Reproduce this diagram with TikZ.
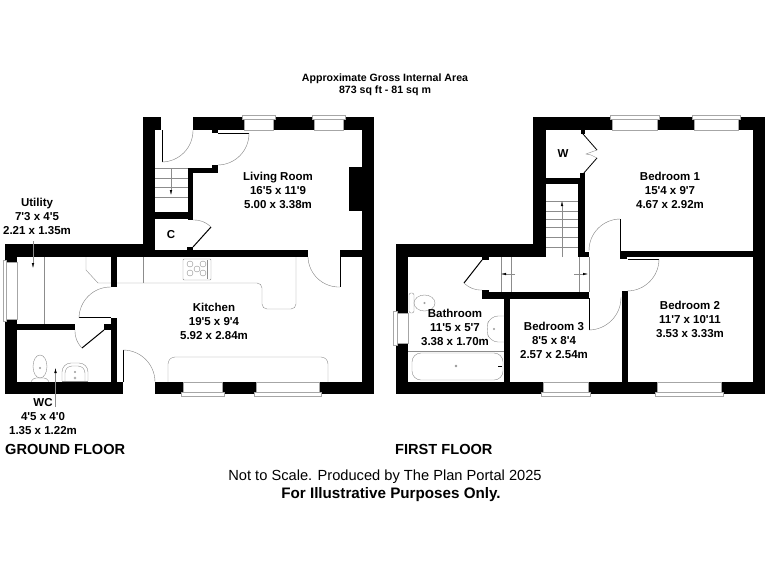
\documentclass[tikz,border=0pt]{standalone}
\usepackage{fontspec}
\usetikzlibrary{arrows.meta}
\newfontfamily\planfont{Liberation Sans}
\tikzset{%
  wall/.style={fill=black,draw=none},
  fitting/.style={draw=black!45,line width=0.4pt},
  leaf/.style={draw=black,line width=1pt},
  swing/.style={draw=black!50,line width=0.4pt},
  glass/.style={draw=black!35,line width=0.4pt,fill=white},
  room/.style={align=center,inner sep=0pt,font=\planfont\bfseries\fontsize{11.5}{14}\selectfont},
  note/.style={align=center,inner sep=0pt,font=\planfont\bfseries\fontsize{10.6}{12}\selectfont},
  heading/.style={inner sep=0pt,anchor=west,font=\planfont\bfseries\fontsize{14.6}{16}\selectfont},
}

\begin{document}
\begin{tikzpicture}[x=1pt,y=-1pt,>={Latex[black,length=5pt,width=2.5pt]}]
      \useasboundingbox (0,0) rectangle (768,576);

      % ground floor walls
      \foreach \xa/\ya/\xb/\yb in {143/117/161/130,143/117/155/257,193/117/244/130,273/117/314/130,
        343/117/374/130,362/117/374/394,349/167/362/211,188/168/193/220,188/168/218/173,212/165/218/173,
        212/130/218/133,155/212/193/219,187/247/193/250,5/244/143/257,143/250/308/257,340/250/362/257,
        5/244/17/262,5/319/17/394,5/382/123/394,17/324/75/330,104/324/111/330,111/257/117/287,
        111/318/117/382,155/382/183/394,222/382/256/394,319/382/374/394}
        \fill[wall] (\xa,\ya) rectangle (\xb,\yb);

      % first floor walls
      \foreach \xa/\ya/\xb/\yb in {533/117/612/130,657/117/694/130,738/117/765/130,753/117/765/394,
        533/117/546/257,546/178/585/184,578/178/585/257,578/252/589/257,581/130/585/134,396/244/546/257,
        396/244/408/313,396/343/408/394,396/382/543/394,588/382/657/394,721/382/765/394,
        620/251/753/257,620/251/627/259,622/291/628/382,482/292/589/299,482/290/489/299,482/257/489/260,
        504/299/510/382,580/173/585/178}
        \fill[wall] (\xa,\ya) rectangle (\xb,\yb);

      % windows
      \foreach \xa/\ya/\xb/\yb in {242/115/275/119,312/115/345/119,610/115/659/119,692/115/740/119,
        181/392/224/396,254/392/321/396,541/392/590/396,655/392/723/396,3/260/6/321,393/311/397/345}
        \draw[glass] (\xa,\ya) rectangle (\xb,\yb);
      \foreach \xa/\ya/\xb/\yb in {244/119/273/130,314/119/343/130,612/119/657/130,694/119/738/130,
        183/382/222/392,256/382/319/392,543/382/588/392,657/382/721/392,6/262/17/319,397/313/408/343}
        \draw[glass] (\xa,\ya) rectangle (\xb,\yb);

      % doors
      \foreach \xa/\ya/\xb/\yb in {162/130/162/162,218/133/249/133,193/247/211/227,340/257/340/287,
        104/330/82/348,620/251/620/219,628/259/659/259,589/298/589/330,482/260/464/283}
        \draw[leaf] (\xa,\ya) -- (\xb,\yb);
      \draw[leaf,line width=0.6pt] (111,317) -- (79,317);
      \draw[leaf,line width=0.6pt] (123,382) -- (123,350);
      \foreach \xa/\ya/\xb/\yb in {162/162/193/130,218/165/249/133,308/257/340/287,111/287/79/318,
        155/382/123/350,620/219/589/251,627/291/659/259,589/330/621/297}
        \draw[swing] (\xa,\ya) to[bend right=45] (\xb,\yb);
      \draw[swing] (211,227) to[bend right=22] (193,220);
      \draw[swing] (75,330) to[bend right=22] (82,348);
      \draw[swing] (464,283) to[bend right=22] (482,290);

      % wardrobe doors
      \draw[leaf,line width=0.8pt] (583,134) -- (597,150);
      \draw[leaf,line width=0.8pt] (583,174) -- (597,158);
      \draw[fitting] (597,150) -- (586,154) -- (591,155) -- (597,158);

      % stairs
      \foreach \y in {168,178,187,197}
        \draw[fitting] (155,\y) -- (188,\y);
      \draw[fitting,->] (171,168) -- (171,195);
      \foreach \y in {201,211,219,227,237,247}
        \draw[fitting] (546,\y) -- (578,\y);
      \draw[fitting,->] (562,257) -- (562,201);
      \foreach \x in {501,511,579,589}
        \draw[fitting] (\x,257) -- (\x,292);
      \draw[fitting,->] (515,274) -- (501,274);
      \draw[fitting,->] (574,274) -- (588,274);

      % kitchen and utility units
      \draw[fitting] (86,257) -- (86,270) -- (98,283) -- (111,283);
      \draw[fitting] (44,257) -- (44,324);
      \draw[fitting] (143,257) -- (143,283);
      \draw[fitting,rounded corners=5pt] (117,283) -- (262,283) -- (262,309) -- (296,309) -- (296,257);
      \draw[fitting,rounded corners=7pt] (168,382) -- (168,357) -- (328,357) -- (328,382);
      \draw[fitting,rounded corners=1pt] (183,259) rectangle (211,280);
      \draw[fitting] (207,260) -- (207,279);
      \foreach \x/\y/\r in {190/264/3,190/273/3,197/269/3,203/264/3,203/273/3}
        \draw[fitting] (\x,\y) circle (\r);

      % bathroom and wc fittings
      \draw[fitting] (408,351) -- (504,351);
      \draw[fitting,rounded corners=9pt] (412,353) rectangle (503,380);
      \draw[fitting] (456,366) circle (1);
      \draw[leaf,line width=0.7pt] (498,366) -- (502,366);
      \draw[fitting,rounded corners=8pt] (504,316) -- (490,316) -- (486,329) -- (490,342) -- (504,342);
      \draw[fitting] (494,329) circle (0.8);
      \draw[fitting,rounded corners=2pt] (409,293) rectangle (414,313);
      \draw[fitting] (424.5,303) ellipse (10.5 and 8);
      \draw[fitting] (424.5,303) circle (0.8);
      \draw[fitting,rounded corners=3pt] (31,382) -- (33,378) -- (47,378) -- (49,382);
      \draw[fitting] (40,366.5) ellipse (7 and 11.5);
      \draw[fitting] (40,368) circle (0.8);
      \draw[fitting,rounded corners=9pt] (62,381) -- (62,363) -- (88,363) -- (88,381);
      \draw[fitting,rounded corners=7pt] (65,381) -- (65,366) -- (85,366) -- (85,381);
      \draw[fitting] (75,372) circle (0.8);
      \draw[fitting] (75,378) circle (1.2);
      \draw[fitting] (62,381) -- (88,381);

      % dimension leaders
      \draw[fitting,->] (33,241) -- (33,268);
      \draw[fitting,->] (55.5,407) -- (55.5,368);

      % labels
      \node[note] (area) at (385,85) {Approximate Gross Internal Area\\873 sq ft - 81 sq m};
      \node[room] (utility) at (37,216) {Utility\\7'3 x 4'5\\2.21 x 1.35m};
      \node[room] (wc) at (43,417) {WC\\4'5 x 4'0\\1.35 x 1.22m};
      \node[room] (cupboard) at (171,235) {C};
      \node[room] (living) at (278,190) {Living Room\\16'5 x 11'9\\5.00 x 3.38m};
      \node[room] (kitchen) at (214,321) {Kitchen\\19'5 x 9'4\\5.92 x 2.84m};
      \node[room] (wardrobe) at (563,154) {W};
      \node[room] (bed1) at (670,190) {Bedroom 1\\15'4 x 9'7\\4.67 x 2.92m};
      \node[room] (bed2) at (690,319) {Bedroom 2\\11'7 x 10'11\\3.53 x 3.33m};
      \node[room] (bed3) at (554,340) {Bedroom 3\\8'5 x 8'4\\2.57 x 2.54m};
      \node[room] (bath) at (455,327) {Bathroom\\11'5 x 5'7\\3.38 x 1.70m};
      \node[heading] (ground) at (5,449) {GROUND FLOOR};
      \node[heading] (first) at (395,449) {FIRST FLOOR};
      \node[inner sep=0pt,font=\planfont\fontsize{14.65}{16}\selectfont] (scale) at (385,477) {Not to Scale. Produced by The Plan Portal 2025};
      \node[inner sep=0pt,font=\planfont\bfseries\fontsize{15.2}{16}\selectfont] (purpose) at (391,495) {For Illustrative Purposes Only.};
\end{tikzpicture}
\end{document}
